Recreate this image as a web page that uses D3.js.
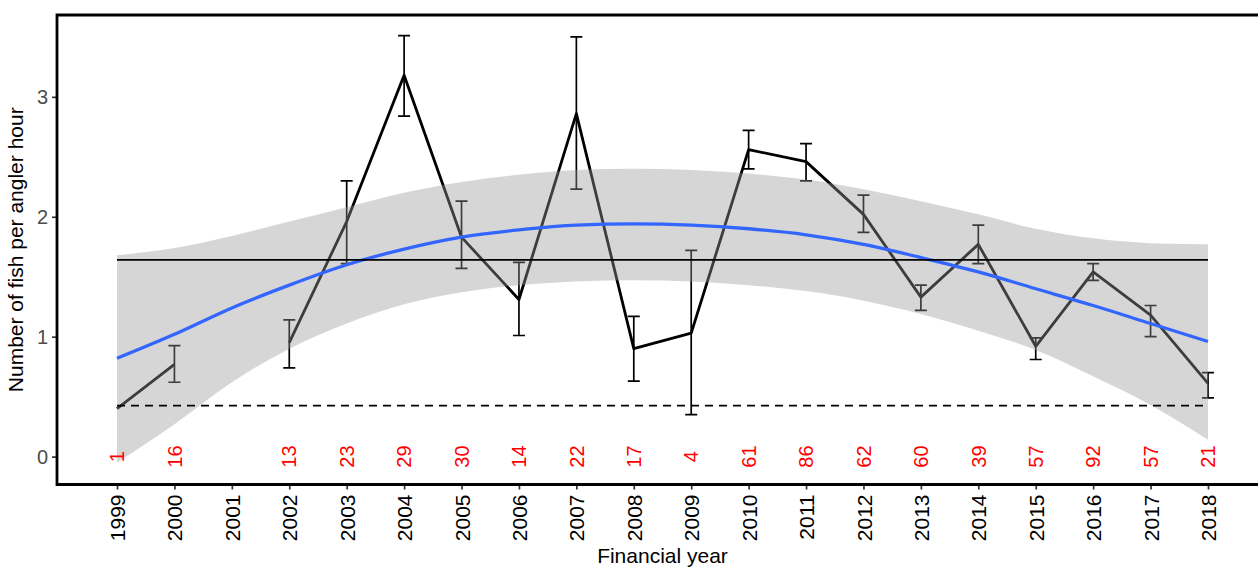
<!DOCTYPE html>
<html>
<head>
<meta charset="utf-8">
<script src="https://cdn.jsdelivr.net/npm/d3@7"></script>
<style>
  html, body { margin: 0; padding: 0; background: #fff; }
  svg { display: block; font-family: "Liberation Sans", Arial, sans-serif; }
</style>
</head>
<body>
<svg id="chart" width="1258" height="568"></svg>
<script>
// ---- data ----
const years = [1999,2000,2001,2002,2003,2004,2005,2006,2007,2008,2009,2010,2011,2012,2013,2014,2015,2016,2017,2018];
const catchRate = [0.40,0.77,null,0.95,1.96,3.18,1.83,1.31,2.86,0.90,1.03,2.56,2.46,2.02,1.33,1.77,0.92,1.54,1.18,0.61];
const errUpper  = [null,0.925,null,1.14,2.30,3.51,2.13,1.62,3.50,1.17,1.72,2.72,2.61,2.18,1.43,1.93,0.99,1.61,1.26,0.70];
const errLower  = [null,0.62,null,0.74,1.61,2.84,1.57,1.01,2.23,0.63,0.35,2.40,2.30,1.87,1.22,1.61,0.81,1.47,1.00,0.49];
const sampleSize = ["1","16","","13","23","29","30","14","22","17","4","61","86","62","60","39","57","92","57","21"];
const smoothFit   = [0.82,1.02,1.24,1.43,1.60,1.73,1.83,1.89,1.93,1.94,1.93,1.90,1.85,1.77,1.66,1.54,1.40,1.26,1.11,0.96];
const smoothUpper = [1.68,1.74,1.84,1.96,2.08,2.20,2.29,2.35,2.39,2.40,2.39,2.36,2.31,2.23,2.13,2.02,1.90,1.82,1.78,1.77];
const smoothLower = [-0.05,0.27,0.62,0.90,1.11,1.27,1.37,1.43,1.46,1.47,1.46,1.43,1.38,1.30,1.19,1.05,0.89,0.67,0.43,0.14];
const meanLine = 1.64;
const refLine = 0.425;
const yTicks = [0,1,2,3];
const xLabel = "Financial year";
const yLabel = "Number of fish per angler hour";

// ---- layout ----
const svg = d3.select("#chart");
const pL = 57, pR = 1268, pT = 15, pB = 484.5;
const x = d3.scaleLinear().domain([1997.955, 2019.045]).range([pL, pR]);
const y = d3.scaleLinear().domain([-0.2325, 3.6825]).range([pB, pT]);

const rows = years.map((yr, i) => ({
  year: yr, v: catchRate[i], hi: errUpper[i], lo: errLower[i], n: sampleSize[i],
  fit: smoothFit[i], su: smoothUpper[i], sl: smoothLower[i]
}));

const plot = svg.append("g");

// error bars
const eb = rows.filter(d => d.hi != null);
const capW = 6;
plot.selectAll("path.eb").data(eb).join("path")
  .attr("class", "eb")
  .attr("d", d => `M${x(d.year)-capW},${y(d.hi)}H${x(d.year)+capW}M${x(d.year)},${y(d.hi)}V${y(d.lo)}M${x(d.year)-capW},${y(d.lo)}H${x(d.year)+capW}`)
  .attr("fill", "none").attr("stroke", "#000").attr("stroke-width", 1.7);

// data line
const line = d3.line().defined(d => d.v != null).x(d => x(d.year)).y(d => y(d.v));
plot.append("path").datum(rows).attr("d", line)
  .attr("fill", "none").attr("stroke", "#000").attr("stroke-width", 2.8)
  .attr("stroke-linejoin", "round");

// ribbon
const area = d3.area().curve(d3.curveMonotoneX)
  .x(d => x(d.year)).y0(d => y(d.sl)).y1(d => y(d.su));
plot.append("path").datum(rows).attr("d", area)
  .attr("fill", "#999999").attr("fill-opacity", 0.4);

// smooth fit
const fitLine = d3.line().curve(d3.curveMonotoneX).x(d => x(d.year)).y(d => y(d.fit));
plot.append("path").datum(rows).attr("d", fitLine)
  .attr("fill", "none").attr("stroke", "#3366FF").attr("stroke-width", 3.3);

// reference lines
plot.append("line").attr("x1", x(years[0])).attr("x2", x(years[years.length-1]))
  .attr("y1", y(meanLine)).attr("y2", y(meanLine))
  .attr("stroke", "#000").attr("stroke-width", 1.7);
plot.append("line").attr("x1", x(years[0])).attr("x2", x(years[years.length-1]))
  .attr("y1", y(refLine)).attr("y2", y(refLine))
  .attr("stroke", "#000").attr("stroke-width", 1.7).attr("stroke-dasharray", "8,6");

// sample size labels
plot.selectAll("text.n").data(rows.filter(d => d.n !== "")).join("text")
  .attr("class", "n")
  .attr("transform", d => `translate(${x(d.year)},${y(0)}) rotate(-90)`)
  .attr("text-anchor", "middle").attr("dy", "0.36em")
  .attr("font-size", 20).attr("fill", "#ff0000")
  .text(d => d.n);

// axes
const yAxis = d3.axisLeft(y).tickValues(yTicks).tickSize(5).tickPadding(4).tickFormat(d3.format("d"));
const gy = svg.append("g").attr("transform", `translate(${pL},0)`).call(yAxis);
gy.select(".domain").remove();
gy.selectAll(".tick line").attr("stroke", "#333").attr("stroke-width", 1.7);
gy.selectAll(".tick text").attr("font-size", 20).attr("fill", "#4d4d4d")
  .attr("font-family", "Liberation Sans, Arial, sans-serif");

const xAxis = d3.axisBottom(x).tickValues(years).tickSize(5).tickFormat(d3.format("d"));
const gx = svg.append("g").attr("transform", `translate(0,${pB})`).call(xAxis);
gx.select(".domain").remove();
gx.selectAll(".tick line").attr("stroke", "#333").attr("stroke-width", 1.7);
gx.selectAll(".tick text")
  .attr("font-size", 21).attr("fill", "#000")
  .attr("font-family", "Liberation Sans, Arial, sans-serif")
  .attr("transform", "rotate(-90)")
  .attr("text-anchor", "end")
  .attr("x", -10).attr("y", 0).attr("dy", "0.36em");

// panel border (top, left, bottom)
svg.append("path")
  .attr("d", `M${pR},${pT}H${pL}V${pB}H${pR}`)
  .attr("fill", "none").attr("stroke", "#000").attr("stroke-width", 2.8);

// titles
svg.append("text").attr("x", (pL + pR) / 2).attr("y", 563)
  .attr("text-anchor", "middle").attr("font-size", 21).attr("fill", "#000").text(xLabel);
svg.append("text").attr("transform", `translate(23,${(pT + pB) / 2}) rotate(-90)`)
  .attr("text-anchor", "middle").attr("font-size", 21).attr("fill", "#000").text(yLabel);
</script>
</body>
</html>
